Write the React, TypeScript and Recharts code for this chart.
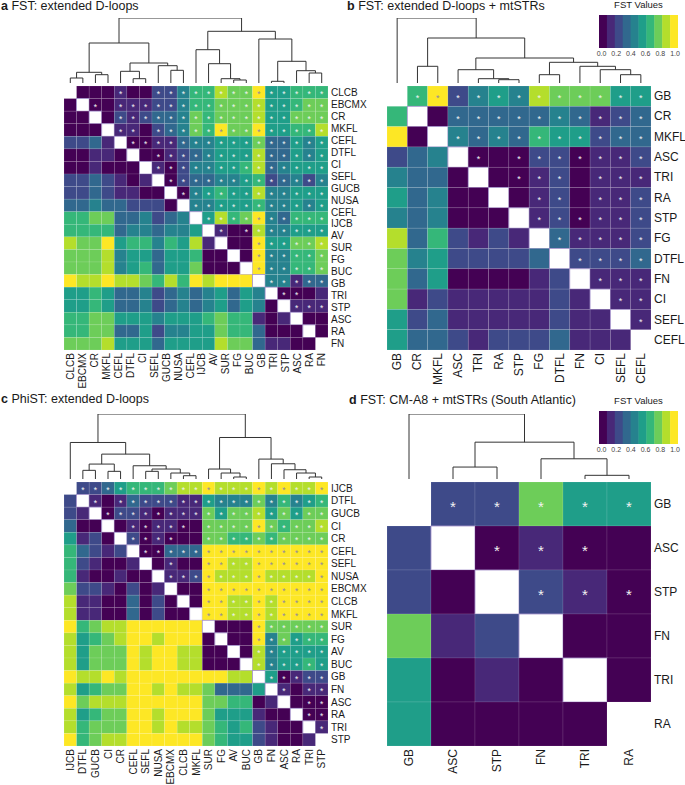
import React from "react";
import { ComposedChart, Line, Scatter, XAxis, YAxis } from "recharts";

// viridis, 10 bins (0.0 - 1.0)
const VIRIDIS = ["#440154", "#482878", "#3e4a89", "#31688e", "#26828e", "#1f9e89", "#35b779", "#6dcd59", "#b4de2c", "#fde725"];
const LEGEND_TICKS = ["0.0", "0.2", "0.4", "0.6", "0.8", "1.0"];

// ---- panel a: FST extended D-loops (bin index per cell, "." = diagonal)
const aLabels = ["CLCB", "EBCMX", "CR", "MKFL", "CEFL", "DTFL", "CI", "SEFL", "GUCB", "NUSA", "CEFL", "IJCB", "AV", "SUR", "FG", "BUC", "GB", "TRI", "STP", "ASC", "RA", "FN"];
const aBins = [
  ".00010022466877955666",
  "0.0011122466777855677",
  "00.021233476777855777",
  "000.11023476977955668",
  "2231.0011344555733545",
  "00110.001234555833545",
  "001000.10244556834555",
  "2232101.0233445623424",
  "22321100.045655844555",
  "334332220.44555644545",
  "6677334234.5867943666",
  "66663443445.100844555",
  "877956646581.00955778",
  "7778455355600.0944667",
  "77784563557000.944667",
  "988988768698999.44133",
  "5565334234345354.0001",
  "55653342343453540.111",
  "667755545556766101.00",
  "6677335244557663000.0",
  "77785553555587731100.",
];
const aStars = [
  "....*..**************",
  "..*.*****************",
  "....*****************",
  "....**.**************",
  ".....****************",
  ".......**************",
  ".......**************",
  "........*************",
  ".........************",
  "..........***********",
  "...........**********",
  "............*.*******",
  "...............******",
  "...............******",
  "...............******",
  "................*****",
  ".................**..",
  "..................***",
  ".....................",
  ".....................",
  ".....................",
];
const aLinks = [
  [0, 1, 5], [2, 3, 8.3], [21, 22, 10.7], [5, 6, 4.3], [4, 24, 11.7], [8, 9, 12.7], [7, 26, 17.3],
  [25, 27, 20], [23, 28, 40], [13, 14, 3], [12, 30, 4.3], [11, 31, 19.3], [10, 32, 33.3], [16, 17, 1.7],
  [19, 20, 10], [18, 35, 12.3], [34, 36, 21.7], [15, 37, 44], [33, 38, 51.7], [29, 39, 65],
];

// ---- panel b: FST extended D-loops + mtSTRs
const bLabels = ["GB", "CR", "MKFL", "ASC", "TRI", "RA", "STP", "FG", "DTFL", "FN", "CI", "SEFL", "CEFL"];
const bBins = [
  ".692454877755",
  "6.03333343123",
  "90.4343655233",
  "234.000220112",
  "4330.00120111",
  "53400.0120112",
  "434000.120112",
  "8362121.31112",
  "74522223.2223",
  "735000012.111",
  "7121111121.11",
  "52311111211.1",
  "533212223111.",
];
const bStars = [
  ".************",
  "...**********",
  "...**********",
  "....*.*******",
  "......***.***",
  ".......**.***",
  ".......******",
  "........*****",
  ".........****",
  "..........***",
  "...........**",
  "............*",
  ".............",
];
const bLinks = [
  [1, 2, 16.7], [5, 6, 3.3], [4, 14, 4.3], [3, 15, 13.3], [7, 8, 8.3], [11, 12, 8.3],
  [10, 18, 13.3], [9, 19, 16.7], [17, 20, 20.7], [16, 21, 25], [13, 22, 45], [0, 23, 65],
];

// ---- panel c: PhiST extended D-loops
const cLabels = ["IJCB", "DTFL", "GUCB", "CI", "CR", "CEFL", "SEFL", "NUSA", "EBCMX", "CLCB", "MKFL", "SUR", "FG", "AV", "BUC", "GB", "FN", "ASC", "RA", "TRI", "STP"];
const cBins = [
  ".22356667889888989889",
  "2.1013222115444746456",
  "21.022101117577857577",
  "300.01011007777976778",
  "5120.2010007766767777",
  "63212.003339999999999",
  "621001.01009988999999",
  "6100100.1129888988889",
  "72210201.009999999999",
  "811003020.09988989999",
  "8110030200.9988989999",
  "96788999999.000977777",
  "856789989990.00947566",
  "8577798998800.0845555",
  "85777989988000.845565",
  "988989999999988.50122",
  "8567799898873335.1011",
  "97888999999776601.000",
  "856779989997555100.00",
  "8677799898876562100.1",
  "96788999999765521001.",
];
const cStars = [
  ".********************",
  "..*.*****************",
  "...******************",
  ".....*****.**********",
  ".....****..**********",
  "......***************",
  "........*..**********",
  "........*************",
  "...........**********",
  "...........**********",
  "...........**********",
  "...............******",
  "...............******",
  "...............******",
  "...............******",
  "................*****",
  ".................*.**",
  "...................**",
  "...................**",
  "....................*",
  ".....................",
];
const cLinks = [
  [1, 2, 8.7], [3, 4, 7.7], [21, 22, 15], [6, 7, 7.7], [9, 10, 3.3], [8, 25, 6], [24, 26, 10],
  [5, 27, 13.3], [23, 28, 25], [0, 29, 36.7], [13, 14, 2], [12, 31, 6], [11, 32, 10], [19, 20, 2],
  [18, 34, 6], [17, 35, 9.3], [16, 36, 15.3], [15, 37, 20], [33, 38, 41.7], [30, 39, 65.3],
];

// ---- panel d: FST CM-A8 + mtSTRs (South Atlantic)
const dLabels = ["GB", "ASC", "STP", "FN", "TRI", "RA"];
const dBins = [".22755", "2.0100", "20.210", "712.00", "5010.0", "50000."];
const dStars = [".*****", "..***.", "...***", "......", "......", "......"];
const dLinks = [[4, 5, 3.7], [3, 6, 20.3], [1, 2, 12], [8, 7, 37], [0, 9, 65.3]];

const HEAT = 264;
const DENDRO = 68;
const GAP = 3;
const XAXIS_H = 52;
const FONT = '"Liberation Sans", Arial, Helvetica, sans-serif';
const INK = "#1a1a1a";

type HeatPanelProps = {
  x: number;
  y: number;
  labels: string[];
  bins: string[];
  stars: string[];
  links: number[][];
  labelSize: number;
  starSize: number;
  axisW: number;
};

function HeatPanel({ x, y, labels, bins, stars, links, labelSize, starSize, axisW }: HeatPanelProps) {
  const n = bins.length;
  const cell = HEAT / n;
  const yMin = -0.5 - DENDRO / cell;
  const leafBase = -0.5 - GAP / cell;
  const maxH = Math.max(...links.map((l) => l[2]));
  const toY = (h: number) => leafBase - (h / maxH) * ((DENDRO - GAP) / cell);

  const cells: any[] = [];
  bins.forEach((row, r) => {
    row.split("").forEach((ch, c) => {
      if (r === c && (r === 0 || r === n - 1)) return;
      cells.push({ x: c, y: r, v: ch === "." ? -1 : Number(ch), star: (stars[r] || "")[c] === "*" });
    });
  });

  // dendrogram branches from linkage rows [left, right, height]
  const pos = bins.map((_, i) => i);
  const hgt = bins.map(() => 0);
  const branches = links.map(([a, b, h]) => {
    const seg = [
      { x: pos[a], y: toY(hgt[a]) },
      { x: pos[a], y: toY(h) },
      { x: pos[b], y: toY(h) },
      { x: pos[b], y: toY(hgt[b]) },
    ];
    pos.push((pos[a] + pos[b]) / 2);
    hgt.push(h);
    return seg;
  });

  const step = (n - 1) / (labels.length - 1);
  const ticks = labels.map((_, k) => k * step);
  const labelAt = (v: number) => labels[Math.round(v / step)];

  const drawCell = (p: any) => {
    const { cx, cy, payload } = p;
    const diag = payload.v < 0;
    return (
      <g>
        <rect
          x={cx - cell / 2}
          y={cy - cell / 2}
          width={cell}
          height={cell}
          fill={diag ? "#ffffff" : VIRIDIS[payload.v]}
          stroke={diag ? "#a08dc9" : "#ffffff"}
          strokeOpacity={diag ? 1 : 0.18}
          strokeWidth={diag ? 0.8 : 0.6}
        />
        {payload.star && (
          <text
            x={cx}
            y={cy + starSize * 0.56}
            textAnchor="middle"
            fontSize={starSize}
            fontFamily={FONT}
            fill={payload.v === 9 ? "#8d88a0" : "#f2f2f2"}
          >
            *
          </text>
        )}
      </g>
    );
  };

  const rightTick = (p: any) => (
    <text x={p.x + 3} y={p.y} dominantBaseline="central" fontSize={labelSize} fontFamily={FONT} fill={INK}>
      {labelAt(p.payload.value)}
    </text>
  );

  const bottomTick = (p: any) => (
    <text
      x={p.x}
      y={p.y + 3}
      transform={`rotate(-90 ${p.x} ${p.y + 3})`}
      textAnchor="end"
      dominantBaseline="central"
      fontSize={labelSize}
      fontFamily={FONT}
      fill={INK}
    >
      {labelAt(p.payload.value)}
    </text>
  );

  return (
    <div style={{ position: "absolute", left: x, top: y - DENDRO }}>
      <ComposedChart width={HEAT + axisW} height={DENDRO + HEAT + XAXIS_H} margin={{ top: 0, right: 0, bottom: 0, left: 0 }}>
        <XAxis
          type="number"
          dataKey="x"
          domain={[-0.5, n - 0.5]}
          ticks={ticks}
          interval={0}
          height={XAXIS_H}
          tickLine={false}
          axisLine={false}
          tickSize={0}
          tickMargin={0}
          tick={bottomTick}
          allowDataOverflow
        />
        <YAxis
          type="number"
          dataKey="y"
          orientation="right"
          reversed
          domain={[yMin, n - 0.5]}
          ticks={ticks}
          interval={0}
          width={axisW}
          tickLine={false}
          axisLine={false}
          tickSize={0}
          tickMargin={0}
          tick={rightTick}
          allowDataOverflow
        />
        <Scatter data={cells} dataKey="y" shape={drawCell} isAnimationActive={false} />
        {branches.map((seg, i) => (
          <Line
            key={i}
            data={seg}
            dataKey="y"
            type="linear"
            stroke="#333333"
            strokeWidth={1}
            dot={false}
            activeDot={false}
            isAnimationActive={false}
          />
        ))}
      </ComposedChart>
    </div>
  );
}

function Title({ x, y, tag, text }: { x: number; y: number; tag: string; text: string }) {
  return (
    <div style={{ position: "absolute", left: x, top: y, fontSize: 12.5, lineHeight: "13px", whiteSpace: "nowrap", color: INK }}>
      <b>{tag}</b> {text}
    </div>
  );
}

function ColorKey({ x, y }: { x: number; y: number }) {
  const w = 79;
  const h = 33;
  const band = w / VIRIDIS.length;
  return (
    <div style={{ position: "absolute", left: x, top: y, width: w, height: 60 }}>
      <div style={{ position: "absolute", left: -10, top: 0, width: w + 20, textAlign: "center", fontSize: 9.5, lineHeight: "10px", color: INK }}>
        FST Values
      </div>
      <svg style={{ position: "absolute", left: 0, top: 15 }} width={w} height={h}>
        {VIRIDIS.map((c, i) => (
          <rect key={c} x={i * band} y={0} width={band + 0.4} height={h} fill={c} />
        ))}
      </svg>
      {LEGEND_TICKS.map((t, i) => (
        <div
          key={t}
          style={{ position: "absolute", left: 2.5 + i * 14.7 - 10, top: 50, width: 20, textAlign: "center", fontSize: 7, lineHeight: "8px", color: "#444" }}
        >
          {t}
        </div>
      ))}
    </div>
  );
}

export default function App() {
  return (
    <div style={{ position: "absolute", left: 0, top: 0, width: 685, height: 785, background: "#ffffff", overflow: "hidden", fontFamily: FONT }}>
      <style>{"body{margin:0;overflow:hidden;background:#fff}"}</style>
      <Title x={1} y={0} tag="a" text="FST: extended D-loops" />
      <Title x={347} y={0} tag="b" text="FST: extended D-loops + mtSTRs" />
      <Title x={1} y={393} tag="c" text="PhiST: extended D-loops" />
      <Title x={349} y={394} tag="d" text="FST: CM-A8 + mtSTRs (South Atlantic)" />

      <HeatPanel x={64} y={86} labels={aLabels} bins={aBins} stars={aStars} links={aLinks} labelSize={10} starSize={8.5} axisW={50} />
      <HeatPanel x={387} y={86} labels={bLabels} bins={bBins} stars={bStars} links={bLinks} labelSize={12} starSize={9} axisW={46} />
      <HeatPanel x={64} y={482} labels={cLabels} bins={cBins} stars={cStars} links={cLinks} labelSize={10} starSize={8.5} axisW={50} />
      <HeatPanel x={387} y={482} labels={dLabels} bins={dBins} stars={dStars} links={dLinks} labelSize={12} starSize={15} axisW={46} />

      <ColorKey x={599} y={0} />
      <ColorKey x={599} y={396} />
    </div>
  );
}
